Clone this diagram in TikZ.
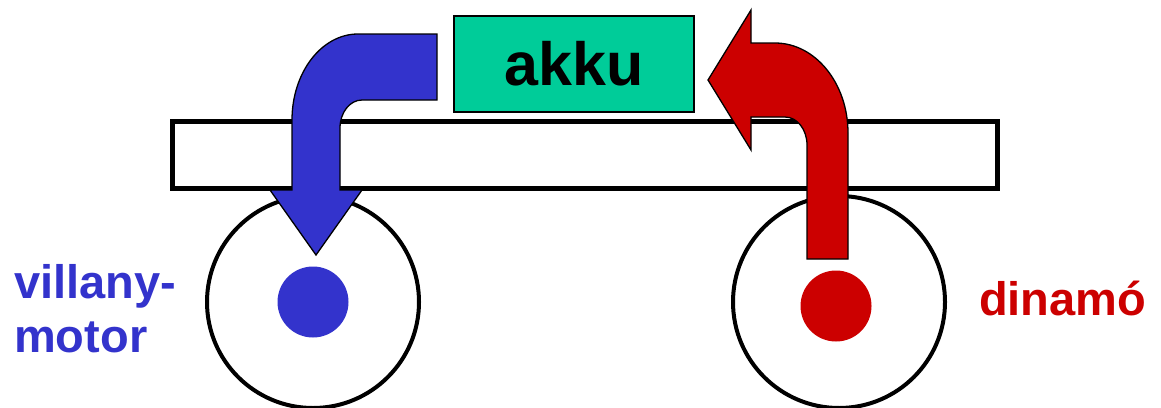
\documentclass[tikz,border=0pt]{standalone}
\usepackage{fontspec}
\setmainfont{Liberation Sans}
\definecolor{motorblue}{HTML}{3333CC}
\definecolor{dynred}{HTML}{CC0000}
\definecolor{akkugreen}{HTML}{00CC99}
\begin{document}
\begin{tikzpicture}[x=1pt,y=-1pt,
  wheel/.style={circle,draw=black,line width=4pt,fill=white,minimum size=212pt,inner sep=0pt},
  hub/.style={circle,minimum size=71pt,inner sep=0pt},
  platform/.style={draw=black,line width=5pt,fill=white},
  bigarrow/.style={draw=black,line width=1.3pt,line join=miter},
  label/.style={font=\bfseries\fontsize{47}{54}\selectfont,inner sep=0pt,anchor=base west}]
\useasboundingbox (0,0) rectangle (1161,407);
% wheels
\node[wheel] (lwheel) at (313,302) {};
\node[wheel] (rwheel) at (839,302) {};
% chassis
\draw[platform] (172,121) rectangle (997,188);
% battery
\node[draw=black,line width=2pt,fill=akkugreen,minimum width=240pt,minimum height=96pt,
      inner sep=0pt,font=\bfseries\fontsize{61}{70}\selectfont] (akku) at (574,64) {akku};
% blue curved arrow: battery to motor
\filldraw[bigarrow,fill=motorblue]
  (437,34) -- (358,34)
  .. controls (321.5,34) and (292,72.5) .. (292,120)
  -- (292,190) -- (270,190) -- (316,255) -- (362,190) -- (340,190) -- (340,128)
  .. controls (340,112.5) and (349.8,100) .. (362,100)
  -- (437,100) -- cycle;
% red curved arrow: dynamo to battery
\filldraw[bigarrow,fill=dynred]
  (708,80) -- (751,10) -- (751,43) -- (775,43)
  .. controls (815.3,43) and (848,83.3) .. (848,133)
  -- (848,259) -- (807,259) -- (807,145)
  .. controls (807,129.5) and (797.2,117) .. (785,117)
  -- (751,117) -- (751,150) -- cycle;
% hubs
\node[hub,fill=motorblue] (lhub) at (lwheel.center) {};
\node[hub,fill=dynred] (rhub) at (836,306) {};
% labels
\node[label,text=motorblue] (motor1) at (14,298) {villany-};
\node[label,text=motorblue] (motor2) at (14,352) {motor};
\node[label,text=dynred] (dyn) at (979,315) {dinamó};
\end{tikzpicture}
\end{document}
